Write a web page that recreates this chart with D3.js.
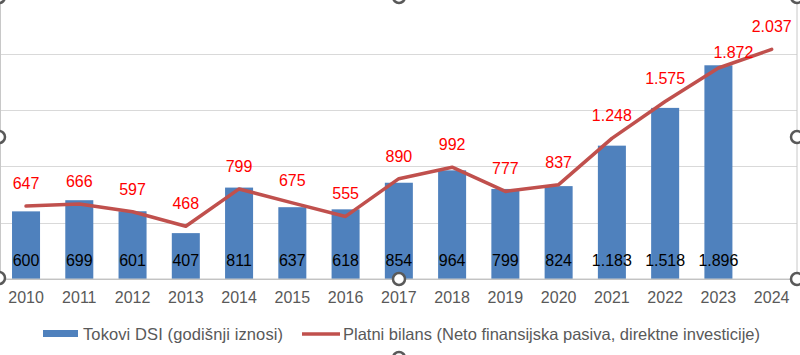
<!DOCTYPE html>
<html>
<head>
<meta charset="utf-8">
<script src="https://cdn.jsdelivr.net/npm/d3@7"></script>
<style>
  html, body { margin: 0; padding: 0; background: #fff; }
  svg { display: block; font-family: "Liberation Sans", Arial, sans-serif; }
</style>
</head>
<body>
<svg id="chart" width="800" height="355"></svg>
<script>
const years = ["2010","2011","2012","2013","2014","2015","2016","2017","2018","2019","2020","2021","2022","2023","2024"];
const barYears = ["2010","2011","2012","2013","2014","2015","2016","2017","2018","2019","2020","2021","2022","2023"];
const barValues = [600, 699, 601, 407, 811, 637, 618, 854, 964, 799, 824, 1183, 1518, 1896];
const lineValues = [647, 666, 597, 468, 799, 675, 555, 890, 992, 777, 837, 1248, 1575, 1872, 2037];
const yTicks = [0, 500, 1000, 1500, 2000, 2500];
const barSeriesName = "Tokovi DSI (godišnji iznosi)";
const lineSeriesName = "Platni bilans (Neto finansijska pasiva, direktne investicije)";

const svg = d3.select("#chart");
const fmt = d3.formatLocale({decimal: ",", thousands: ".", grouping: [3], currency: ["", ""]}).format(",d");

const x = d3.scaleBand().domain(years).range([-0.6, 798.3]).padding(0);
const y = d3.scaleLinear().domain([0, 2500]).range([279, -2.8]);
const barW = x.bandwidth() * 0.526;
const cx = d => x(d) + x.bandwidth() / 2;

// gridlines
svg.append("g").selectAll("line").data(yTicks.filter(t => t > 0)).join("line")
  .attr("x1", 0).attr("x2", 797)
  .attr("y1", d => Math.round(y(d)) + 0.5).attr("y2", d => Math.round(y(d)) + 0.5)
  .attr("stroke", "#D9D9D9").attr("stroke-width", 1);

// bars
svg.append("g").selectAll("rect").data(barYears).join("rect")
  .attr("x", (d) => cx(d) - barW / 2)
  .attr("width", barW)
  .attr("y", (d, i) => y(barValues[i]))
  .attr("height", (d, i) => y(0) - y(barValues[i]))
  .attr("fill", "#4F81BD");

// x axis
const xAxis = d3.axisBottom(x).tickSize(0).tickPadding(0);
const gx = svg.append("g").attr("transform", `translate(0,${y(0)})`).call(xAxis);
gx.select(".domain").remove();
gx.selectAll("text")
  .attr("y", 24).attr("dy", 0)
  .attr("fill", "#595959").attr("font-size", 16)
  .attr("font-family", "'Liberation Sans', Arial, sans-serif");
svg.append("line").attr("x1", 0).attr("x2", 797)
  .attr("y1", y(0) + 0.5).attr("y2", y(0) + 0.5)
  .attr("stroke", "#BFBFBF").attr("stroke-width", 1);

// bar labels
svg.append("g").selectAll("text").data(barYears).join("text")
  .attr("x", d => cx(d)).attr("y", y(0) - 13)
  .attr("text-anchor", "middle").attr("font-size", 16).attr("fill", "#000")
  .text((d, i) => fmt(barValues[i]));

// line
const line = d3.line().x((d, i) => cx(years[i])).y(d => y(d));
svg.append("path").datum(lineValues)
  .attr("d", line).attr("fill", "none")
  .attr("stroke", "#C0504D").attr("stroke-width", 3.5)
  .attr("stroke-linejoin", "round").attr("stroke-linecap", "round");

// line labels
svg.append("g").selectAll("text").data(lineValues).join("text")
  .attr("x", (d, i) => cx(years[i]) + (i === 13 ? 15 : 0))
  .attr("y", (d, i) => y(d) - 17 + (i === 13 ? 7 : 0))
  .attr("text-anchor", "middle").attr("font-size", 16).attr("fill", "#FF0000")
  .text(d => fmt(d));

// legend
const lg = svg.append("g");
lg.append("rect").attr("x", 43).attr("y", 330).attr("width", 35).attr("height", 7).attr("fill", "#4F81BD");
lg.append("text").attr("x", 83).attr("y", 339.5).attr("font-size", 16.5).attr("fill", "#595959")
  .attr("textLength", 200).attr("lengthAdjust", "spacing").text(barSeriesName);
lg.append("line").attr("x1", 302).attr("x2", 340).attr("y1", 334).attr("y2", 334)
  .attr("stroke", "#C0504D").attr("stroke-width", 3.5);
lg.append("text").attr("x", 343).attr("y", 339.5).attr("font-size", 16.5).attr("fill", "#595959")
  .attr("textLength", 417).attr("lengthAdjust", "spacing").text(lineSeriesName);

// selection frame & handles
svg.append("rect").attr("x", 0.5).attr("y", -3).attr("width", 796.5).attr("height", 282)
  .attr("fill", "none").attr("stroke", "#C8C8C8").attr("stroke-width", 1);
const handles = [[-1,-3],[399,-3],[797,-3],[-1,137],[797,137],[-1,278],[399,279],[797,279],[399,358]];
svg.append("g").selectAll("circle").data(handles).join("circle")
  .attr("cx", d => d[0]).attr("cy", d => d[1]).attr("r", 6)
  .attr("fill", "#fff").attr("stroke", "#595959").attr("stroke-width", 2.5);
</script>
</body>
</html>
